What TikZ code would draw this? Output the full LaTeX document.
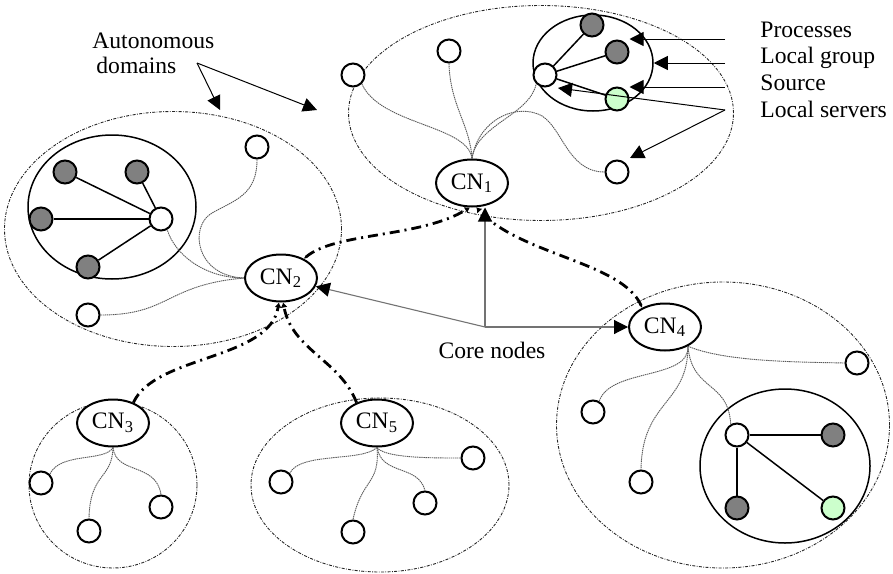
\documentclass[tikz,border=0pt]{standalone}
\usepackage{fontspec}
\setmainfont{Liberation Serif}
\usetikzlibrary{shapes.geometric,arrows.meta}
\definecolor{procgray}{HTML}{808080}
\definecolor{srcgreen}{HTML}{CCFFCC}
\begin{document}
\begin{tikzpicture}[x=0.5pt,y=-0.5pt,font=\fontsize{11.8}{14}\selectfont,
  adomain/.style={ellipse,draw=black!85,line width=0.45pt,dash pattern=on 1.5pt off 0.7pt on 0.4pt off 0.7pt,inner sep=0pt},
  lgroup/.style={ellipse,draw,line width=0.75pt,inner sep=0pt},
  cn/.style={ellipse,draw,line width=1pt,fill=white,minimum width=36pt,minimum height=23.5pt,inner sep=0pt},
  pnode/.style={circle,draw,line width=1pt,fill=white,minimum size=11.5pt,inner sep=0pt},
  procn/.style={pnode,fill=procgray},
  srcn/.style={pnode,fill=srcgreen},
  tree/.style={draw=black!65,line width=0.45pt,dash pattern=on 0.7pt off 0.35pt},
  glink/.style={draw,line width=0.75pt},
  core/.style={draw=black!55,line width=0.55pt,-{Triangle[length=7pt,width=7pt,color=black]}},
  legarr/.style={draw=black,line width=0.5pt,-{Triangle[length=7pt,width=7pt]}},
  cnlink/.style={draw,line width=1.4pt,dash pattern=on 5pt off 2.5pt on 1pt off 2.5pt,
     -{Latex[length=2.5pt,width=3.5pt]}},
  cnlinkb/.style={cnlink,{Latex[length=1.5pt,width=1.5pt]}-{Latex[length=2.5pt,width=3.5pt]}},
  lbl/.style={anchor=base west,inner sep=0pt}
]
\useasboundingbox (0,0) rectangle (893,573);

% autonomous domains
\node[adomain,minimum width=192.5pt,minimum height=107.5pt] (dom1) at (541,113) {};
\node[adomain,minimum width=168.5pt,minimum height=117.5pt] (dom2) at (173,229) {};
\node[adomain,minimum width=166.5pt,minimum height=143pt] (dom4) at (723,425) {};
\node[adomain,minimum width=84pt,minimum height=83pt] (dom3) at (113,485) {};
\node[adomain,minimum width=129pt,minimum height=87pt] (dom5) at (380,485) {};

% local groups
\node[lgroup,minimum width=60pt,minimum height=48pt] (lg1) at (593,63) {};
\node[lgroup,minimum width=84pt,minimum height=72pt] (lg2) at (112,207) {};
\node[lgroup,minimum width=85pt,minimum height=77pt] (lg4) at (785,466) {};

% core nodes
\node[cn] (CN1) at (472,183) {CN\textsubscript{1}};
\node[cn] (CN2) at (281,278) {CN\textsubscript{2}};
\node[cn] (CN3) at (113,423) {CN\textsubscript{3}};
\node[cn] (CN4) at (665,327) {CN\textsubscript{4}};
\node[cn] (CN5) at (377,423) {CN\textsubscript{5}};

% domain 1
\node[pnode] (c1a) at (353,75) {};
\node[pnode] (c1b) at (449,51) {};
\node[pnode] (c1c) at (545,75) {};
\node[procn] (p1a) at (592,25) {};
\node[procn] (p1b) at (617,52) {};
\node[srcn] (s1) at (617,99) {};
\node[pnode] (c1d) at (617,172) {};

% domain 2
\node[pnode] (hub2) at (161,219) {};
\node[procn] (d2a) at (65,172) {};
\node[procn] (d2b) at (137,172) {};
\node[procn] (d2c) at (41,219) {};
\node[procn] (d2d) at (88,267) {};
\node[pnode] (c2a) at (257,147) {};
\node[pnode] (c2b) at (88,315) {};

% domain 4
\node[pnode] (hub4) at (737,435) {};
\node[procn] (d4a) at (833,435) {};
\node[procn] (d4b) at (737,508) {};
\node[srcn] (s4) at (833,508) {};
\node[pnode] (c4a) at (857,363) {};
\node[pnode] (c4b) at (593,412) {};
\node[pnode] (c4c) at (641,482) {};

% domain 3
\node[pnode] (c3a) at (41,483) {};
\node[pnode] (c3b) at (89,531) {};
\node[pnode] (c3c) at (161,507) {};

% domain 5
\node[pnode] (c5a) at (281,482) {};
\node[pnode] (c5b) at (473,458) {};
\node[pnode] (c5c) at (353,532) {};
\node[pnode] (c5d) at (425,503) {};

% group links
\draw[glink] (c1c) -- (p1a);
\draw[glink] (c1c) -- (p1b);
\draw[glink] (c1c) -- (s1);
\draw[glink] (hub2) -- (d2a);
\draw[glink] (hub2) -- (d2b);
\draw[glink] (hub2) -- (d2c);
\draw[glink] (hub2) -- (d2d);
\draw[glink] (hub4) -- (d4a);
\draw[glink] (hub4) -- (d4b);
\draw[glink] (hub4) -- (s4);

% tree links domain 1
\draw[tree] (CN1.north) .. controls (468,125) and (380,125) .. (c1a.-45);
\draw[tree] (CN1.north) .. controls (470,125) and (450,105) .. (c1b.south);
\draw[tree] (CN1.north) .. controls (476,125) and (530,115) .. (c1c.-135);
\draw[tree] (CN1.north) .. controls (478,122) and (512,104) .. (538,114) .. controls (562,123) and (566,172) .. (c1d.west);
% domain 2
\draw[tree] (CN2.west) .. controls (205,278) and (175,255) .. (hub2.-60);
\draw[tree] (c2a.south) .. controls (257,195) and (235,200) .. (212,213) .. controls (189,226) and (195,276) .. (CN2.west);
\draw[tree] (c2b.east) .. controls (170,315) and (165,285) .. (CN2.west);
% domain 4
\draw[tree] (CN4.-40) .. controls (725,362) and (800,362) .. (c4a.west);
\draw[tree] (CN4.-40) .. controls (690,380) and (610,368) .. (c4b.60);
\draw[tree] (CN4.-40) .. controls (688,405) and (642,400) .. (c4c.north);
\draw[tree] (CN4.-40) .. controls (692,392) and (728,380) .. (hub4.120);
% domain 3
\draw[tree] (CN3.south) .. controls (105,462) and (60,452) .. (c3a.45);
\draw[tree] (CN3.south) .. controls (112,480) and (90,472) .. (c3b.north);
\draw[tree] (CN3.south) .. controls (116,475) and (156,462) .. (c3c.north);
% domain 5
\draw[tree] (CN5.south) .. controls (362,462) and (300,452) .. (c5a.45);
\draw[tree] (CN5.south) .. controls (385,458) and (430,458) .. (c5b.west);
\draw[tree] (CN5.south) .. controls (380,485) and (362,478) .. (c5c.north);
\draw[tree] (CN5.south) .. controls (382,476) and (418,464) .. (c5d.north);

% core node links
\draw[cnlinkb] (CN2.40) .. controls (335,232) and (420,238) .. (CN1.265);
\draw[cnlinkb] (CN4.140) .. controls (622,262) and (520,255) .. (CN1.280);
\draw[cnlink] (CN3.45) .. controls (155,355) and (270,360) .. (CN2.-95);
\draw[cnlink] (CN5.135) .. controls (340,360) and (292,350) .. (CN2.-85);

% core nodes label
\coordinate (core) at (485,327);
\node[anchor=base,inner sep=0pt] (corelbl) at (492,358) {Core nodes};
\draw[core] (core) -- (core |- CN1.south);
\draw[core] (core) -- (CN2);
\draw[core] (core) -- (CN4.west);

% autonomous domains label
\node[lbl] (auto1) at (92,48) {Autonomous};
\node[lbl] (auto2) at (96,73) {domains};
\coordinate (autop) at (197,63);
\coordinate (autot1) at (220,110);
\coordinate (autot2) at (317,110);
\draw[legarr] (autop) -- (autot1);
\draw[legarr] (autop) -- (autot2);

% legend
\node[lbl] (legp) at (760,37) {Processes};
\node[lbl] (legg) at (760,63) {Local group};
\node[lbl] (legs) at (760,90) {Source};
\node[lbl] (legl) at (760,117) {Local servers};
\coordinate (leg1) at (725,39);
\coordinate (leg2) at (725,63);
\coordinate (leg3) at (725,87);
\coordinate (leg4) at (725,110);
\coordinate (ls1) at (558,88);
\coordinate (ls2) at (630,158);
\draw[legarr] (leg1) -- (leg1 -| p1b.east);
\draw[legarr] (leg2) -- (lg1.east);
\draw[legarr] (leg3) -- (leg3 -| s1.east);
\draw[legarr] (leg4) -- (ls1);
\draw[legarr] (leg4) -- (ls2);
\end{tikzpicture}
\end{document}
